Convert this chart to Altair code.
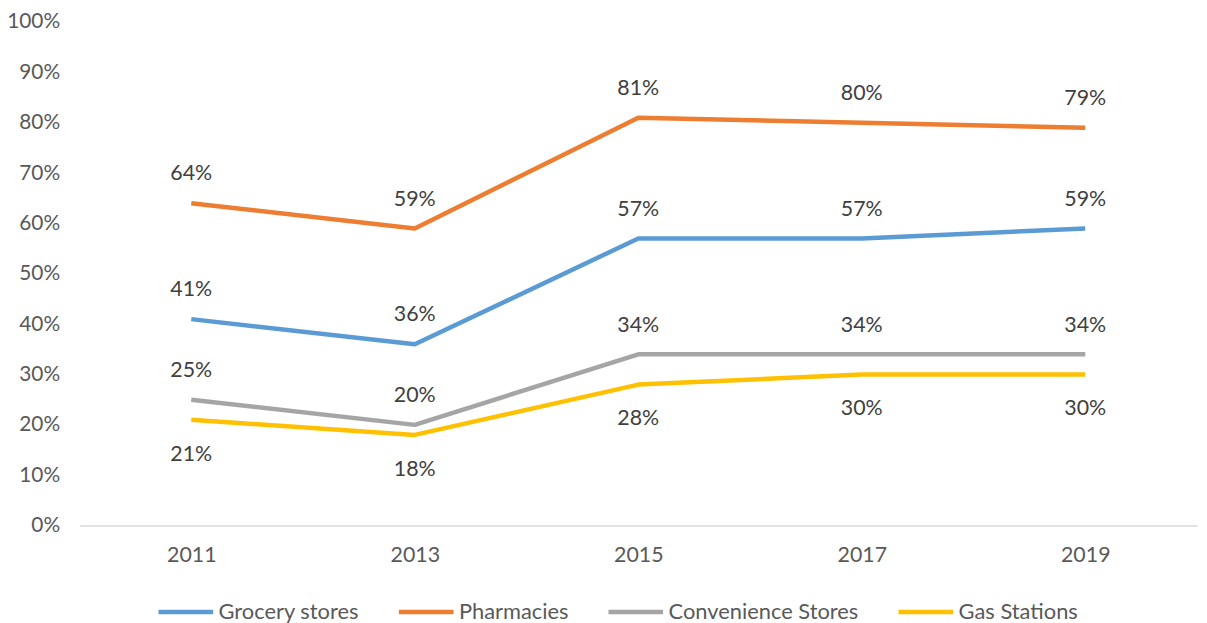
import altair as alt
import pandas as pd

years = ["2011", "2013", "2015", "2017", "2019"]
series_names = ["Grocery stores", "Pharmacies", "Convenience Stores", "Gas Stations"]
grocery = [41, 36, 57, 57, 59]
pharmacies = [64, 59, 81, 80, 79]
convenience = [25, 20, 34, 34, 34]
gas = [21, 18, 28, 30, 30]
colors = ["#5B9BD5", "#ED7D31", "#A5A5A5", "#FFC000"]
y_ticks = [0, 10, 20, 30, 40, 50, 60, 70, 80, 90, 100]

rows = []
for name, vals in zip(series_names, [grocery, pharmacies, convenience, gas]):
    for yr, v in zip(years, vals):
        rows.append({"year": yr, "series": name, "value": v / 100.0,
                     "label": f"{v}%"})
df = pd.DataFrame(rows)

FONT = "Lato"
FS = 21.5

x_enc = alt.X("year:N", sort=years, title=None,
              scale=alt.Scale(type="point", padding=0.5),
              axis=alt.Axis(labelAngle=0, domainColor="#D9D9D9", domainWidth=1.5,
                            ticks=False, labelPadding=19, labelFontSize=FS,
                            labelColor="#595959", labelFont=FONT))
y_enc = alt.Y("value:Q", title=None,
              scale=alt.Scale(domain=[0, 1], nice=False),
              axis=alt.Axis(values=[t / 100 for t in y_ticks], format=".0%", domain=False,
                            ticks=False, grid=False, labelPadding=20, labelFontSize=21,
                            labelColor="#595959", labelFont=FONT))

color_enc = alt.Color("series:N", sort=series_names,
                      scale=alt.Scale(domain=series_names, range=colors),
                      legend=alt.Legend(title=None, orient="none", direction="horizontal",
                                        legendX=77, legendY=564, columns=4,
                                        symbolType="stroke", symbolSize=3025,
                                        symbolStrokeWidth=4.5, labelFontSize=22,
                                        labelFont=FONT, labelColor="#595959",
                                        labelOffset=3, columnPadding=30,
                                        labelLimit=400))

lines = alt.Chart(df).mark_line(strokeWidth=4.5, strokeCap="butt", strokeJoin="round").encode(
    x=x_enc, y=y_enc, color=color_enc, detail="series:N")

above = alt.Chart(df).transform_filter(
    alt.datum.series != "Gas Stations"
).mark_text(dy=-29, fontSize=FS, font=FONT, color="#404040", baseline="middle").encode(
    x=alt.X("year:N", sort=years), y="value:Q", text="label:N")

below = alt.Chart(df).transform_filter(
    alt.datum.series == "Gas Stations"
).mark_text(dy=35, fontSize=FS, font=FONT, color="#404040", baseline="middle").encode(
    x=alt.X("year:N", sort=years), y="value:Q", text="label:N")

chart = alt.layer(lines, above, below).properties(
    width=1125, height=507,
    autosize=alt.AutoSizeParams(type="none"),
    padding={"left": 72, "top": 12, "right": 2, "bottom": 96},
    background="white",
).configure_view(stroke=None)

chart.save("out.html", embed_options={"renderer": "svg", "actions": False})
